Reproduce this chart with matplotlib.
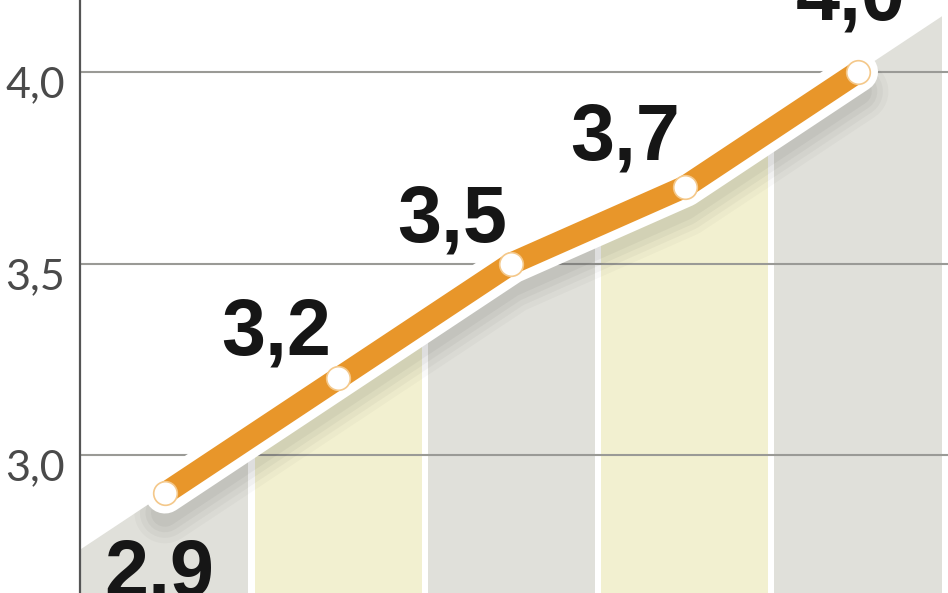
import numpy as np
import matplotlib.pyplot as plt
from matplotlib.patches import Polygon
from matplotlib.transforms import ScaledTranslation, offset_copy

values = [2.9, 3.2, 3.5, 3.7, 4.0]
value_labels = ['2,9', '3,2', '3,5', '3,7', '4,0']
yticks = [3.0, 3.5, 4.0]
ytick_labels = ['3,0', '3,5', '4,0']

# label offsets in points (dx, dy), and vertical alignment
label_offsets = [(-4, -32), (-45, 17), (-43, 16), (-43, 20), (-5, 38)]
label_va = ['top', 'baseline', 'baseline', 'baseline', 'baseline']

gray = '#e0e0da'
yellow = '#f2f0d0'
orange = '#e8962a'

fig = plt.figure(figsize=(9.48, 5.93), dpi=100)
ax = fig.add_axes([80 / 948, 0, 868 / 948, 1])

x = np.arange(len(values))
xmin, xmax = -0.49, 4.52
ymin, ymax = 2.64, 4.188
ax.set_xlim(xmin, xmax)
ax.set_ylim(ymin, ymax)

# extended line for the filled area under the curve
s0 = values[1] - values[0]
s1 = values[-1] - values[-2]
ext_x = np.concatenate([[xmin], x, [xmax]])
ext_y = np.concatenate([[values[0] + s0 * (xmin - x[0])], values,
                        [values[-1] + s1 * (xmax - x[-1])]])
poly = Polygon(np.column_stack([np.concatenate([ext_x, [xmax, xmin]]),
                                np.concatenate([ext_y, [ymin, ymin]])]),
               closed=True, facecolor='none', edgecolor='none')
ax.add_patch(poly)

cols = [gray if i % 2 == 0 else yellow for i in range(len(values))]
bars = ax.bar(x, ymax - ymin, bottom=ymin, width=0.965, color=cols, zorder=1)
for b in bars:
    b.set_clip_path(poly)

# grid
for t in yticks:
    ax.axhline(t, color='#9a9a96', lw=1.5, zorder=2)

# soft shadow under the line
for lw, a in [(44, 0.025), (36, 0.03), (28, 0.035), (20, 0.04)]:
    tr = offset_copy(ax.transData, fig=fig, x=0, y=-14, units='points')
    sh, = ax.plot(x, values, color='black', lw=lw, alpha=a,
                  solid_capstyle='round', transform=tr, zorder=3)
    sh.set_clip_path(poly)

ax.plot(x, values, color='white', lw=29, solid_capstyle='round',
        solid_joinstyle='round', zorder=4)
ax.plot(x, values, color=orange, lw=16, solid_capstyle='round',
        solid_joinstyle='round', zorder=5)
ax.plot(x, values, 'o', ms=17, mfc='white', mec='#f4c88a', mew=1.2, zorder=6)

for i, (v, lab) in enumerate(zip(values, value_labels)):
    ax.annotate(lab, (x[i], v), xytext=label_offsets[i], textcoords='offset points',
                ha='center', va=label_va[i], fontsize=57, fontweight='bold',
                family='Liberation Sans', color='#161616', zorder=7)

ax.set_yticks(yticks)
ax.set_yticklabels(ytick_labels, fontsize=31, family='Lato', fontweight='normal',
                   color='#4a4a4a')
ax.tick_params(axis='y', length=0, pad=11)
ax.set_xticks([])
for lbl in ax.get_yticklabels():
    lbl.set_transform(lbl.get_transform() + ScaledTranslation(0, -10 / 100, fig.dpi_scale_trans))

for side in ['top', 'right', 'bottom']:
    ax.spines[side].set_visible(False)
ax.spines['left'].set_color('#555555')
ax.spines['left'].set_linewidth(1.6)
ax.patch.set_facecolor('white')

fig.savefig('out.png', dpi=100)
